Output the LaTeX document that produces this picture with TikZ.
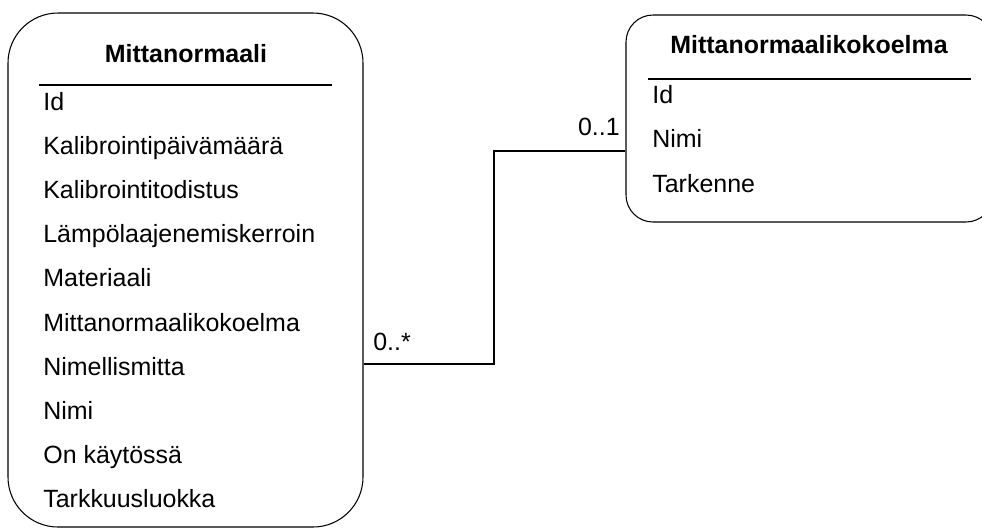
\documentclass[tikz,border=0pt]{standalone}
\usepackage{fontspec}
\setmainfont{Liberation Sans}
\begin{document}
\begin{tikzpicture}[
    entity/.style={rectangle, draw, line width=0.6pt},
    title/.style={anchor=base, inner sep=0pt, font=\fontsize{14.2}{17}\selectfont\bfseries},
    attr/.style={anchor=base west, inner sep=0pt, font=\fontsize{14.2}{17}\selectfont},
    mult/.style={inner sep=0pt, font=\fontsize{14.2}{17}\selectfont}
]
\useasboundingbox (0,0) rectangle (19.64,-10.58);

% Entities
\node[entity, rounded corners=1cm, minimum width=7.1cm, minimum height=10.28cm] (norm) at (3.71,-5.40) {};
\node[entity, rounded corners=0.54cm, minimum width=7.34cm, minimum height=4.14cm] (kok) at (16.19,-2.37) {};

% Titles
\node[title] (normT) at (3.72,-1.24) {Mittanormaali};
\node[title] (kokT) at (16.18,-1.06) {Mittanormaalikokoelma};
\draw[line width=0.6pt] (0.78,-1.70) -- (6.64,-1.70);
\draw[line width=0.6pt] (12.96,-1.58) -- (19.42,-1.58);

% Attributes
\node[attr] (n1) at (0.86,-2.20) {Id};
\node[attr] (n2) at (0.86,-3.08) {Kalibrointipäivämäärä};
\node[attr] (n3) at (0.86,-3.96) {Kalibrointitodistus};
\node[attr] (n4) at (0.86,-4.84) {Lämpölaajenemiskerroin};
\node[attr] (n5) at (0.86,-5.72) {Materiaali};
\node[attr] (n6) at (0.86,-6.62) {Mittanormaalikokoelma};
\node[attr] (n7) at (0.86,-7.50) {Nimellismitta};
\node[attr] (n8) at (0.86,-8.38) {Nimi};
\node[attr] (n9) at (0.86,-9.26) {On käytössä};
\node[attr] (n10) at (0.86,-10.14) {Tarkkuusluokka};

\node[attr] (k1) at (13.04,-2.06) {Id};
\node[attr] (k2) at (13.04,-2.94) {Nimi};
\node[attr] (k3) at (13.04,-3.84) {Tarkenne};

% Relation
\draw[line width=0.6pt] (norm.east |- 0,-7.28) -| (9.88,-3.02) -- (kok.west |- 0,-3.02);
\node[mult, anchor=base west] (mMany) at (7.46,-7.00) {0..*};
\node[mult, anchor=base east] (mOne) at (12.40,-2.70) {0..1};

\end{tikzpicture}
\end{document}
